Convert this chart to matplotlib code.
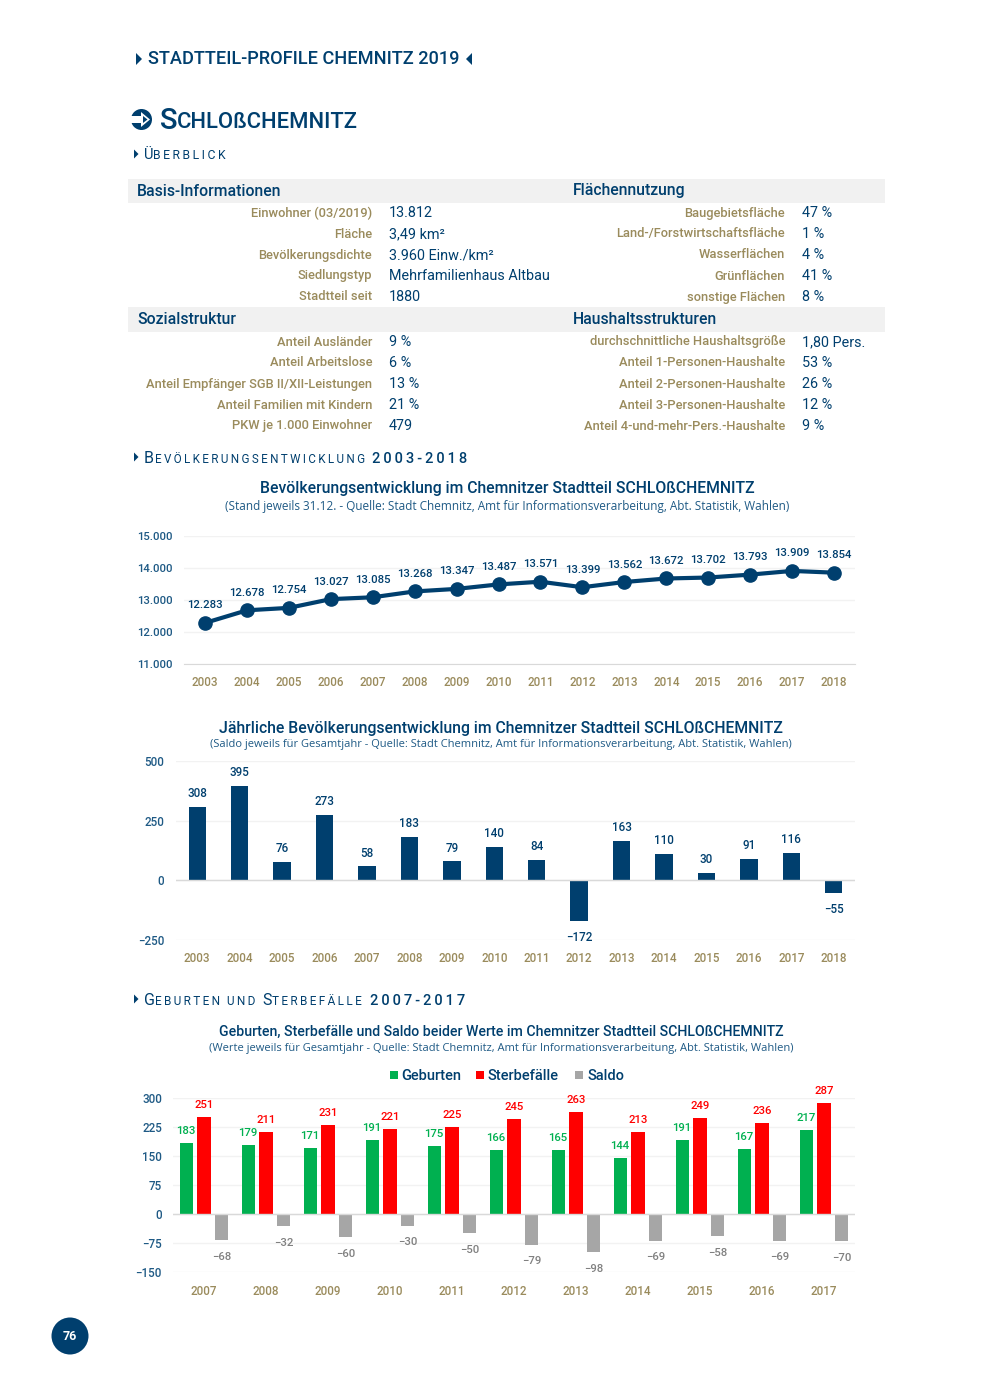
import matplotlib
matplotlib.use('Agg')
import matplotlib.pyplot as plt
from matplotlib.patches import Rectangle, Circle, Polygon

plt.rcParams['font.family'] = ['Roboto', 'DejaVu Sans']

W = 990
H = 1389
NAVY = '#003f6e'
GOLD = '#9a8b5c'
BLUE = '#1f5a85'
THIN = '\u2009'

# chart 1
years1 = [2003, 2004, 2005, 2006, 2007, 2008, 2009, 2010, 2011, 2012, 2013, 2014, 2015, 2016, 2017, 2018]
population = [12283, 12678, 12754, 13027, 13085, 13268, 13347, 13487, 13571, 13399, 13562, 13672, 13702, 13793, 13909, 13854]
pop_ticks = [11000, 12000, 13000, 14000, 15000]

# chart 2
saldo_year = [308, 395, 76, 273, 58, 183, 79, 140, 84, -172, 163, 110, 30, 91, 116, -55]
saldo_ticks = [-250, 0, 250, 500]

# chart 3
years3 = [2007, 2008, 2009, 2010, 2011, 2012, 2013, 2014, 2015, 2016, 2017]
births = [183, 179, 171, 191, 175, 166, 165, 144, 191, 167, 217]
deaths = [251, 211, 231, 221, 225, 245, 263, 213, 249, 236, 287]
saldo = [-68, -32, -60, -30, -50, -79, -98, -69, -58, -69, -70]
ticks3 = [-150, -75, 0, 75, 150, 225, 300]

# tables
basis_labels = ['Einwohner (03/2019)', 'Fläche', 'Bevölkerungsdichte', 'Siedlungstyp', 'Stadtteil seit']
basis_values = ['13.812', '3,49 km²', '3.960 Einw./km²', 'Mehrfamilienhaus Altbau', '1880']
flaeche_labels = ['Baugebietsfläche', 'Land-/Forstwirtschaftsfläche', 'Wasserflächen', 'Grünflächen', 'sonstige Flächen']
flaeche_values = ['47 %', '1 %', '4 %', '41 %', '8 %']
sozial_labels = ['Anteil Ausländer', 'Anteil Arbeitslose', 'Anteil Empfänger SGB II/XII-Leistungen', 'Anteil Familien mit Kindern', 'PKW je 1.000 Einwohner']
sozial_values = ['9 %', '6 %', '13 %', '21 %', '479']
haushalt_labels = ['durchschnittliche Haushaltsgröße', 'Anteil 1-Personen-Haushalte', 'Anteil 2-Personen-Haushalte', 'Anteil 3-Personen-Haushalte', 'Anteil 4-und-mehr-Pers.-Haushalte']
haushalt_values = ['1,80 Pers.', '53 %', '26 %', '12 %', '9 %']

fig = plt.figure(figsize=(W / 100, H / 100), dpi=100, facecolor='white')


def fx(x):
    return x / W


def fy(y):
    return 1 - y / H


def txt(x, y, s, size=9.5, color=NAVY, ha='left', **kw):
    fig.text(fx(x), fy(y + 1), s, fontsize=size, color=color, ha=ha, va='center', **kw)


def spaced(x, y, s, size=8.7, **kw):
    fig.text(fx(x), fy(y), THIN.join(s), fontsize=size, color=NAVY, ha='left', va='baseline', **kw)


def rect(x0, y0, x1, y1, color):
    fig.add_artist(Rectangle((fx(x0), fy(y1)), fx(x1 - x0), (y1 - y0) / H, color=color, lw=0,
                             transform=fig.transFigure))


def poly(points, color):
    fig.add_artist(Polygon([(fx(a), fy(b)) for a, b in points], closed=True, color=color, lw=0,
                           transform=fig.transFigure))


def tri(x, y, size=4, color=NAVY, left=False):
    d = -size if left else size
    poly([(x, y - size), (x, y + size), (x + d, y)], color)


def make_axes(x0, x1, y_top, y_bot):
    ax = fig.add_axes([fx(x0), fy(y_bot), (x1 - x0) / W, (y_bot - y_top) / H])
    for s in ax.spines.values():
        s.set_visible(False)
    ax.set_axisbelow(True)
    ax.grid(axis='y', color='#f2f2f2', lw=1)
    ax.tick_params(length=0)
    ax.patch.set_alpha(0)
    return ax


def de(v):
    return f'{v:,}'.replace(',', '.')


# page header
tri(136, 59, 6)
txt(148, 58, 'STADTTEIL-PROFILE CHEMNITZ 2019', 13.05, weight='medium')
tri(472, 59, 6, left=True)

# round arrow icon
fig.add_artist(Circle((141.5, H - 119.5), 10.5, color=NAVY, lw=0, transform=None))
rect(130, 116.5, 144, 122.5, 'white')
poly([(141, 112), (141, 127), (150, 119.5)], 'white')
poly([(143, 116), (143, 123), (147.5, 119.5)], NAVY)
txt(160, 120, 'S', 21, weight='medium')
txt(177, 122, 'CHLOßCHEMNITZ', 15.8, weight='medium')

# section headings
tri(134, 154, 4.5)
spaced(144, 159, 'Ü', 10.5)
spaced(153, 159, 'BERBLICK', 8.8)
tri(134, 457, 4.5)
spaced(144, 463, 'B', 11.5)
spaced(155, 463, 'EVÖLKERUNGSENTWICKLUNG', 8.4)
spaced(372, 463, '2003-2018', 10.5, weight='medium')
tri(134, 999, 4.5)
spaced(144, 1005, 'G', 11.5)
spaced(155, 1005, 'EBURTEN', 8.5)
spaced(227, 1005, 'UND', 8.5)
spaced(262, 1005, 'S', 11.5)
spaced(272, 1005, 'TERBEFÄLLE', 8.5)
spaced(370, 1005, '2007-2017', 10.5, weight='medium')

# table bands
rect(128, 179, 885, 203, '#f1f1f1')
rect(128, 307, 885, 332, '#f1f1f1')
txt(137, 190, 'Basis-Informationen', 11.3, weight='medium')
txt(573, 190, 'Flächennutzung', 11.3, weight='medium')
txt(137, 318, 'Sozialstruktur', 11.3, weight='medium')
txt(573, 318, 'Haushaltsstrukturen', 11.3, weight='medium')

rows1 = [212, 233, 254, 275, 296]
rows2 = [341, 362, 383, 404, 425]
for y, a, b, c, d in zip(rows1, basis_labels, basis_values, flaeche_labels, flaeche_values):
    txt(372, y, a, 9.25, GOLD, ha='right', weight='medium')
    txt(389, y, b, 10.4, NAVY)
    txt(785, y, c, 9.25, GOLD, ha='right', weight='medium')
    txt(802, y, d, 10.4, NAVY)
for y, a, b, c, d in zip(rows2, sozial_labels, sozial_values, haushalt_labels, haushalt_values):
    txt(372, y, a, 9.25, GOLD, ha='right', weight='medium')
    txt(389, y, b, 10.4, NAVY)
    txt(785, y, c, 9.25, GOLD, ha='right', weight='medium')
    txt(802, y, d, 10.4, NAVY)

# chart 1
txt(507, 487, 'Bevölkerungsentwicklung im Chemnitzer Stadtteil SCHLOßCHEMNITZ', 11.3, ha='center', weight='medium')
txt(507, 505, '(Stand jeweils 31.12. - Quelle: Stadt Chemnitz, Amt für Informationsverarbeitung, Abt. Statistik, Wahlen)',
    8.5, BLUE, ha='center', family=['Open Sans', 'DejaVu Sans'])
ax1 = make_axes(184, 855, 536, 664)
ax1.plot(range(len(years1)), population, color=NAVY, lw=3, marker='o', ms=9.5, clip_on=False)
ax1.set_xlim(-0.5, 15.5)
ax1.set_ylim(11000, 15000)
ax1.set_yticks(pop_ticks)
ax1.set_yticklabels([de(v) for v in pop_ticks], fontsize=8.2, color=BLUE, weight='medium')
ax1.set_xticks(range(len(years1)))
ax1.set_xticklabels(years1, fontsize=8.4, color=GOLD, weight='medium')
ax1.tick_params(axis='y', pad=8)
ax1.tick_params(axis='x', pad=8.5)
ax1.spines['bottom'].set_visible(True)
ax1.spines['bottom'].set_color('#d9d9d9')
for i, v in enumerate(population):
    ax1.annotate(de(v), (i, v), xytext=(0, 9), textcoords='offset points', ha='center', va='bottom',
                 fontsize=8.2, color=NAVY, weight='medium')

# chart 2
txt(501, 727, 'Jährliche Bevölkerungsentwicklung im Chemnitzer Stadtteil SCHLOßCHEMNITZ', 11.35, ha='center', weight='medium')
txt(501, 744, '(Saldo jeweils für Gesamtjahr - Quelle: Stadt Chemnitz, Amt für Informationsverarbeitung, Abt. Statistik, Wahlen)',
    8.0, BLUE, ha='center', family=['Open Sans', 'DejaVu Sans'])
ax2 = make_axes(176, 855, 761, 940)
ax2.bar(range(len(years1)), saldo_year, width=0.41, color=NAVY)
ax2.axhline(0, color='#d9d9d9', lw=1, zorder=1)
ax2.set_xlim(-0.5, 15.5)
ax2.set_ylim(-250, 500)
ax2.set_yticks(saldo_ticks)
ax2.set_yticklabels([str(v).replace('-', '−') for v in saldo_ticks], fontsize=8.4, color=BLUE, weight='medium')
ax2.set_xticks(range(len(years1)))
ax2.set_xticklabels(years1, fontsize=8.4, color=GOLD, weight='medium')
ax2.tick_params(axis='y', pad=8.5)
ax2.tick_params(axis='x', pad=9)
for i, v in enumerate(saldo_year):
    off = 5 if v > 0 else -7
    ax2.annotate(str(v).replace('-', '−'), (i, v), xytext=(0, off), textcoords='offset points', ha='center',
                 va='bottom' if v > 0 else 'top', fontsize=8.4, color=NAVY, weight='medium')

# chart 3
txt(501, 1031, 'Geburten, Sterbefälle und Saldo beider Werte im Chemnitzer Stadtteil SCHLOßCHEMNITZ', 10.2, ha='center', weight='medium')
txt(501, 1048, '(Werte jeweils für Gesamtjahr - Quelle: Stadt Chemnitz, Amt für Informationsverarbeitung, Abt. Statistik, Wahlen)',
    8.0, BLUE, ha='center', family=['Open Sans', 'DejaVu Sans'])
rect(390, 1071, 398, 1079, '#00b050')
txt(401, 1075, 'Geburten', 10.5, weight='medium')
rect(476, 1071, 484, 1079, '#ff0000')
txt(488, 1075, 'Sterbefälle', 10.5, weight='medium')
rect(575, 1071, 583, 1079, '#a6a6a6')
txt(587, 1075, 'Saldo', 10.5, weight='medium')

ax3 = make_axes(173, 855, 1098, 1272)
xs = list(range(len(years3)))
ax3.bar([x - 0.29 for x in xs], births, width=0.21, color='#00b050')
ax3.bar(xs, deaths, width=0.21, color='#ff0000')
ax3.bar([x + 0.29 for x in xs], saldo, width=0.21, color='#a6a6a6')
ax3.axhline(0, color='#d9d9d9', lw=1, zorder=1)
ax3.set_xlim(-0.5, 10.5)
ax3.set_ylim(-150, 300)
ax3.set_yticks(ticks3)
ax3.set_yticklabels([str(v).replace('-', '−') for v in ticks3], fontsize=8.4, color=BLUE, weight='medium')
ax3.set_xticks(xs)
ax3.set_xticklabels(years3, fontsize=8.4, color=GOLD, weight='medium')
ax3.tick_params(axis='y', pad=8)
ax3.tick_params(axis='x', pad=9.5)
for x, b, d, s in zip(xs, births, deaths, saldo):
    ax3.annotate(str(b), (x - 0.29, b), xytext=(0, 5), textcoords='offset points', ha='center', va='bottom',
                 fontsize=8.2, color='#00b050', weight='medium')
    ax3.annotate(str(d), (x, d), xytext=(0, 5), textcoords='offset points', ha='center', va='bottom',
                 fontsize=8.2, color='#ff0000', weight='medium')
    ax3.annotate(str(s).replace('-', '−'), (x + 0.29, s), xytext=(0, -8.5), textcoords='offset points', ha='center',
                 va='top', fontsize=8.2, color='#808080', weight='medium')

# page number
fig.add_artist(Circle((70, H - 1336), 18.5, color=NAVY, lw=0, transform=None))
txt(70, 1336, '76', 9, 'white', ha='center', weight='bold')

fig.savefig('out.png', dpi=100)
